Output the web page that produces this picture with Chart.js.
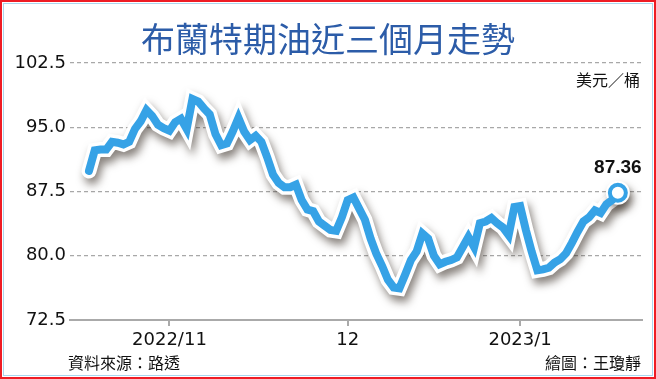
<!DOCTYPE html>
<html><head><meta charset="utf-8">
<script src="https://cdn.jsdelivr.net/npm/chart.js@4.4.0/dist/chart.umd.min.js"></script>
<style>
html,body{margin:0;padding:0;background:#fff;}
#wrap{position:relative;width:656px;height:379px;overflow:hidden;background:#fff;}
#c{position:absolute;left:0;top:0;}
.frame{position:absolute;left:0;top:0;width:656px;height:379px;box-sizing:border-box;border:2px solid #ee1c24;pointer-events:none;}
.frame2{position:absolute;left:3px;top:3px;width:650px;height:373px;box-sizing:border-box;border:1px solid #a9d6ee;pointer-events:none;}
.t{position:absolute;white-space:nowrap;font-family:"Noto Sans CJK TC","Noto Sans CJK SC",sans-serif;color:#111;}
</style></head>
<body><div id="wrap">
<canvas id="c" width="656" height="379"></canvas>
<div class="t" style="left:0;width:656px;text-align:center;top:17px;font-size:34px;line-height:42px;color:#2c5ca8;font-weight:400;">布蘭特期油近三個月走勢</div>
<div class="t" style="right:16px;top:69px;font-size:16px;line-height:20px;">美元／桶</div>
<div class="t" style="left:68px;top:352px;font-size:16px;line-height:20px;">資料來源：路透</div>
<div class="t" style="right:15px;top:352px;font-size:16px;line-height:20px;">繪圖：王瓊靜</div>
<div class="frame"></div><div class="frame2"></div>
</div>
<script>
// Brent daily values, starting 2022/10/18
const prices = [89.9,92.3,92.4,92.4,93.3,93.2,93.0,93.3,94.8,95.7,
97.0,96.3,95.3,94.9,94.6,95.6,96.0,94.8,98.3,98.0,
97.2,96.5,94.2,92.9,93.1,94.5,96.1,94.5,93.5,94.0,
93.3,91.5,89.5,88.5,88.0,88.0,88.3,86.5,85.4,85.2,
84.0,83.5,83.0,82.9,84.5,86.5,86.8,85.5,84.2,82.0,
80.2,78.8,77.2,76.3,76.2,77.8,79.5,80.5,82.6,82.0,
80.0,79.0,79.3,79.5,79.8,81.0,82.2,81.0,83.8,84.0,
84.4,83.8,83.3,82.4,85.7,85.8,83.0,80.5,78.3,78.4,
78.6,79.2,79.6,80.3,81.5,82.8,84.0,84.5,85.3,85.0,
86.0,86.5,87.36];
const tickDays = [14, 45, 75];
const tickLabels = ["2022/11", "12", "2023/1"];
const yTicks = [72.5, 80.0, 87.5, 95.0, 102.5];
const lastLabel = "87.36";

const pts = prices.map((v,i)=>({x:i,y:v}));
const n = prices.length;
const BLUE = '#36a2e6';

const deco = {
  id:'deco',
  beforeDatasetDraw(chart,args){
    if(args.index===0){const c=chart.ctx;c.save();c.shadowColor='rgba(40,30,20,0.55)';c.shadowBlur=8;c.shadowOffsetX=3;c.shadowOffsetY=6;}
  },
  afterDatasetDraw(chart,args){ if(args.index===0){chart.ctx.restore();} },
  afterDatasetsDraw(chart){
    const m = chart.getDatasetMeta(1).data; const p = m[m.length-1];
    const c = chart.ctx; c.save();
    c.font = 'bold 19px "Liberation Sans", Arial, sans-serif';
    c.fillStyle = '#111'; c.textAlign='center'; c.textBaseline='middle';
    c.fillText(lastLabel, p.x, p.y-25);
    c.restore();
  }
};

new Chart(document.getElementById('c'), {
  type:'line',
  data:{datasets:[
    {data:pts, borderColor:'#fff', borderWidth:15, borderJoinStyle:'miter', borderCapStyle:'round', tension:0,
     pointRadius:prices.map((v,i)=>i===n-1?12:0), pointBackgroundColor:'#fff', pointBorderWidth:0, order:2},
    {data:pts, borderColor:BLUE, borderWidth:8, borderJoinStyle:'miter', borderCapStyle:'round', tension:0,
     pointRadius:prices.map((v,i)=>i===n-1?8:0), pointBackgroundColor:'#fff', pointBorderColor:BLUE, pointBorderWidth:4, order:1}
  ]},
  options:{
    responsive:false, animation:false, events:[],
    layout:{padding:{left:0, top:63, right:14, bottom:29}},
    plugins:{legend:{display:false}, tooltip:{enabled:false}},
    scales:{
      x:{type:'linear', min:-3.3, max:96.2,
        afterBuildTicks(s){ s.ticks = tickDays.map(v=>({value:v})); },
        afterFit(s){ s.height = 30; },
        ticks:{autoSkip:false, maxRotation:0, padding:4, color:'#111',
          font:{family:'"DejaVu Sans"', size:18},
          callback(v){ const k = tickDays.indexOf(v); return k>=0 ? tickLabels[k] : ''; }},
        grid:{drawOnChartArea:false, drawTicks:true, tickLength:6, color:'#aaa', lineWidth:2},
        border:{display:true, color:'#aaa', width:2}
      },
      y:{min:72.5, max:102.5,
        afterBuildTicks(s){ s.ticks = yTicks.map(v=>({value:v})); },
        afterFit(s){ s.width = 70; },
        ticks:{padding:4, color:'#111', font:{family:'"DejaVu Sans"', size:18},
          callback(v){ return Number(v).toFixed(1); }},
        grid:{drawTicks:false, color:(ctx)=> ctx.tick && ctx.tick.value===72.5 ? 'rgba(0,0,0,0)' : '#a8a8a8', lineWidth:1.3},
        border:{display:false, dash:[4,3]}
      }
    }
  },
  plugins:[deco]
});
</script>
</body></html>
